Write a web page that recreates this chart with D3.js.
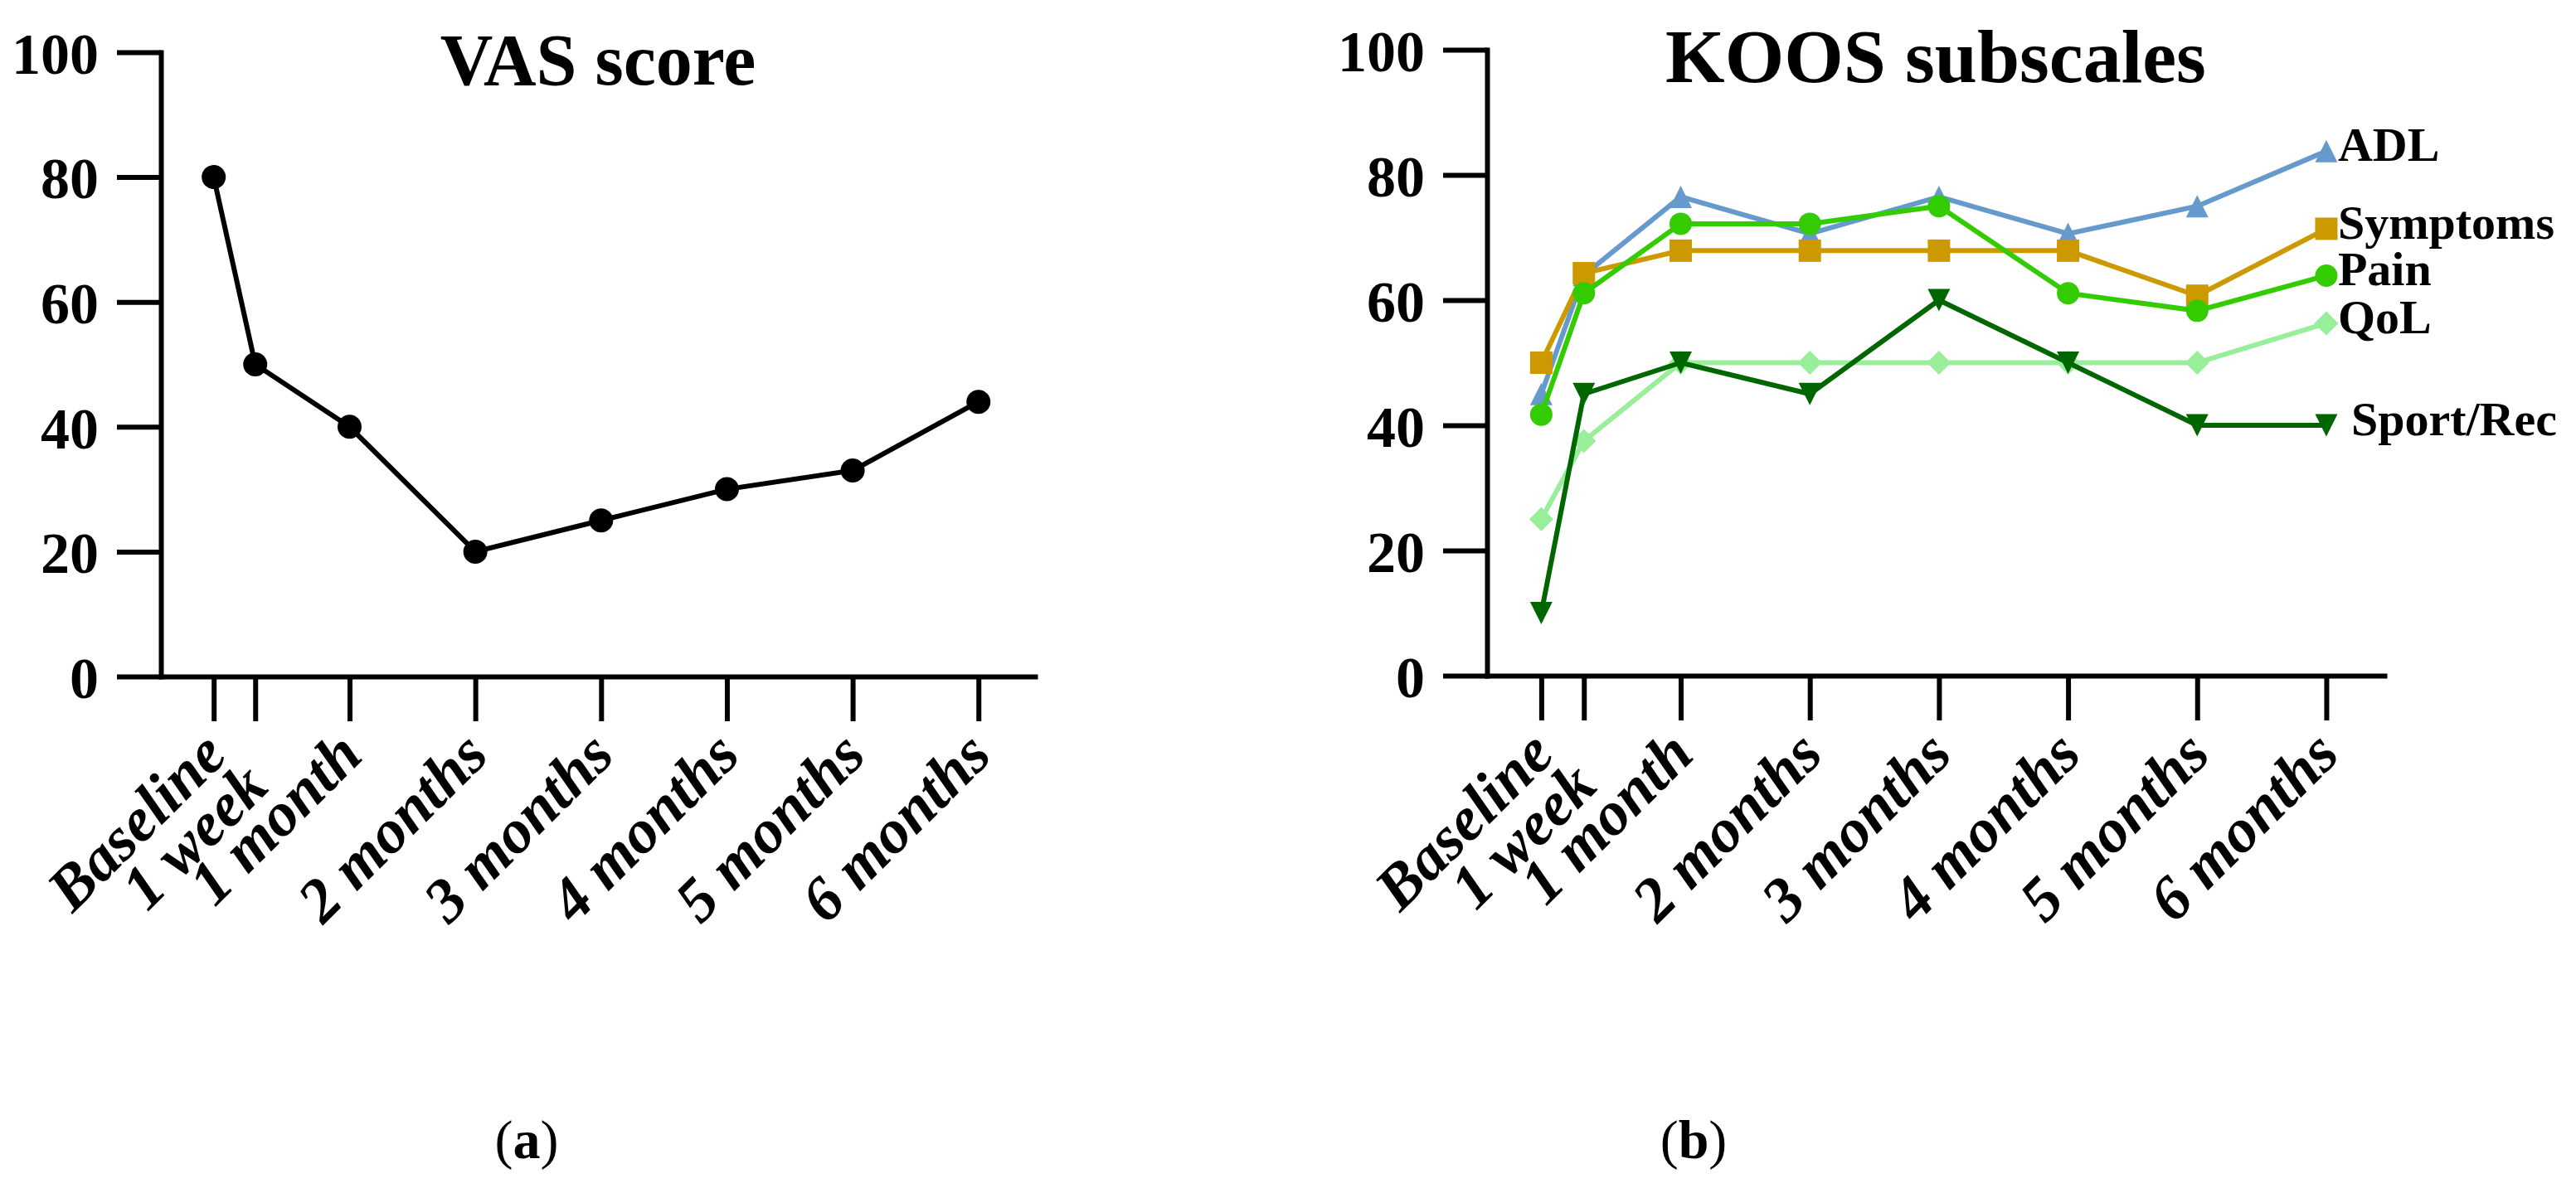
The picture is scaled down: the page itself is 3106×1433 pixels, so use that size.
<!DOCTYPE html>
<html>
<head>
<meta charset="utf-8">
<script src="https://cdn.jsdelivr.net/npm/d3@7"></script>
<style>
  body { margin: 0; background: #fff; }
  text { font-family: "Liberation Serif", "Times New Roman", serif; font-weight: bold; fill: #000; }
</style>
</head>
<body>
<script>
// time points (months after treatment; baseline sits just before 0)
var timeLabels = ["Baseline", "1 week", "1 month", "2 months", "3 months", "4 months", "5 months", "6 months"];
var timeMonths = [-0.08, 0.25, 1, 2, 3, 4, 5, 6];
var yTicks = [0, 20, 40, 60, 80, 100];

// (a) VAS score
var vasScore = [80, 50, 40, 20, 25, 30, 33, 44];

// (b) KOOS subscales
var koosNames = ["ADL", "Symptoms", "Pain", "QoL", "Sport/Rec"];
var adlScore = [45, 64, 76.5, 70.6, 76.5, 70.6, 75, 83.8];
var symptomsScore = [50, 64.3, 67.9, 67.9, 67.9, 67.9, 60.7, 71.4];
var painScore = [41.7, 61.1, 72.2, 72.2, 75, 61.1, 58.3, 63.9];
var qolScore = [25, 37.5, 50, 50, 50, 50, 50, 56.3];
var sportScore = [10, 45, 50, 45, 60, 50, 40, 40];

var koosColors = ["#6699cc", "#cc9900", "#33cc00", "#99ee99", "#006600"];
var koosShapes = ["triangle", "square", "circle", "diamond", "triangleDown"];

var W = 3106, H = 1433;
var svg = d3.select("body").append("svg")
  .attr("width", W)
  .attr("height", H);

function markerPath(shape, s) {
  var p = d3.path();
  if (shape == "circle") {
    p.arc(0, 0, s, 0, 2 * Math.PI);
  } else if (shape == "square") {
    p.rect(-s, -s, 2 * s, 2 * s);
  } else if (shape == "diamond") {
    p.moveTo(0, -s); p.lineTo(s, 0); p.lineTo(0, s); p.lineTo(-s, 0); p.closePath();
  } else if (shape == "triangle") {
    p.moveTo(0, -s); p.lineTo(s, s); p.lineTo(-s, s); p.closePath();
  } else {
    p.moveTo(0, s); p.lineTo(s, -s); p.lineTo(-s, -s); p.closePath();
  }
  return p.toString();
}

// axes, ticks and title for one panel; returns the scales
function drawFrame(box, title) {
  var g = svg.append("g");
  var x = d3.scaleLinear().domain([-0.5, 6.45]).range([box.left, box.right]);
  var y = d3.scaleLinear().domain([0, 100]).range([box.bottom, box.top]);

  var yAxis = g.append("g")
    .attr("transform", "translate(" + box.left + ",0)")
    .call(d3.axisLeft(y).tickValues(yTicks).tickSize(53).tickSizeOuter(0).tickPadding(22));

  var xAxis = g.append("g")
    .attr("transform", "translate(0," + box.bottom + ")")
    .call(d3.axisBottom(x).tickValues(timeMonths).tickSize(54).tickSizeOuter(0)
      .tickFormat(function(d, i) { return timeLabels[i]; }));

  g.selectAll(".domain")
    .attr("stroke", "#000")
    .attr("stroke-width", 6)
    .attr("stroke-linecap", "square");
  g.selectAll(".tick line")
    .attr("stroke", "#000")
    .attr("stroke-width", 6);

  yAxis.selectAll("text")
    .style("font-size", "70px")
    .attr("dy", "0.36em");

  // slanted time labels; a label squeezed next to the previous tick drops a bit lower
  function labelY(i) {
    var crowded = i > 0 && timeMonths[i] - timeMonths[i - 1] < 0.5;
    return 98 + (crowded ? 38 : 0);
  }
  xAxis.selectAll("text")
    .style("font-size", "75px")
    .style("font-style", "italic")
    .attr("text-anchor", "end")
    .attr("dy", 0)
    .attr("x", 18)
    .attr("y", function(d, i) { return labelY(i); })
    .attr("transform", function(d, i) { return "rotate(-45,18," + labelY(i) + ")"; });

  svg.append("text")
    .attr("x", (box.left + box.right) / 2)
    .attr("y", box.titleY)
    .attr("text-anchor", "middle")
    .style("font-size", box.titleSize + "px")
    .text(title);

  return { x: x, y: y };
}

// panel (a)
var boxA = { left: 194, right: 1248, top: 63, bottom: 816, titleY: 102, titleSize: 88 };
var a = drawFrame(boxA, "VAS score");

var lineA = d3.line()
  .x(function(d, i) { return a.x(timeMonths[i]); })
  .y(function(d) { return a.y(d); });

svg.append("path")
  .datum(vasScore)
  .attr("d", lineA)
  .attr("fill", "none")
  .attr("stroke", "#000")
  .attr("stroke-width", 6);

svg.selectAll(".vas-dot")
  .data(vasScore)
  .enter().append("circle")
  .attr("class", "vas-dot")
  .attr("cx", function(d, i) { return a.x(timeMonths[i]); })
  .attr("cy", function(d) { return a.y(d); })
  .attr("r", 14.5)
  .attr("fill", "#000");

// panel (b)
var boxB = { left: 1793, right: 2875, top: 60, bottom: 815, titleY: 99, titleSize: 92 };
var b = drawFrame(boxB, "KOOS subscales");

var koosSeries = [adlScore, symptomsScore, painScore, qolScore, sportScore];

var lineB = d3.line()
  .x(function(d, i) { return b.x(timeMonths[i]); })
  .y(function(d) { return b.y(d); });

koosSeries.forEach(function(values, k) {
  var g = svg.append("g");
  g.append("path")
    .datum(values)
    .attr("d", lineB)
    .attr("fill", "none")
    .attr("stroke", koosColors[k])
    .attr("stroke-width", 6);

  g.selectAll("path.mark")
    .data(values)
    .enter().append("path")
    .attr("class", "mark")
    .attr("transform", function(d, i) { return "translate(" + b.x(timeMonths[i]) + "," + b.y(d) + ")"; })
    .attr("d", markerPath(koosShapes[k], koosShapes[k] == "diamond" ? 14.5 : 13.5))
    .attr("fill", koosColors[k]);

  var last = values.length - 1;
  g.append("text")
    .attr("x", b.x(timeMonths[last]) + (k == koosNames.length - 1 ? 30 : 14))
    .attr("y", b.y(values[last]))
    .attr("dy", "0.2em")
    .style("font-size", "58px")
    .text(koosNames[k]);
});

// panel letters
[["a", (boxA.left + boxA.right) / 2 - 86], ["b", (boxB.left + boxB.right) / 2 - 292]].forEach(function(p) {
  var t = svg.append("text")
    .attr("x", p[1])
    .attr("y", 1397)
    .attr("text-anchor", "middle")
    .style("font-size", "66px")
    .style("font-weight", "normal");
  t.append("tspan").text("(");
  t.append("tspan").style("font-weight", "bold").text(p[0]);
  t.append("tspan").text(")");
});
</script>
</body>
</html>
